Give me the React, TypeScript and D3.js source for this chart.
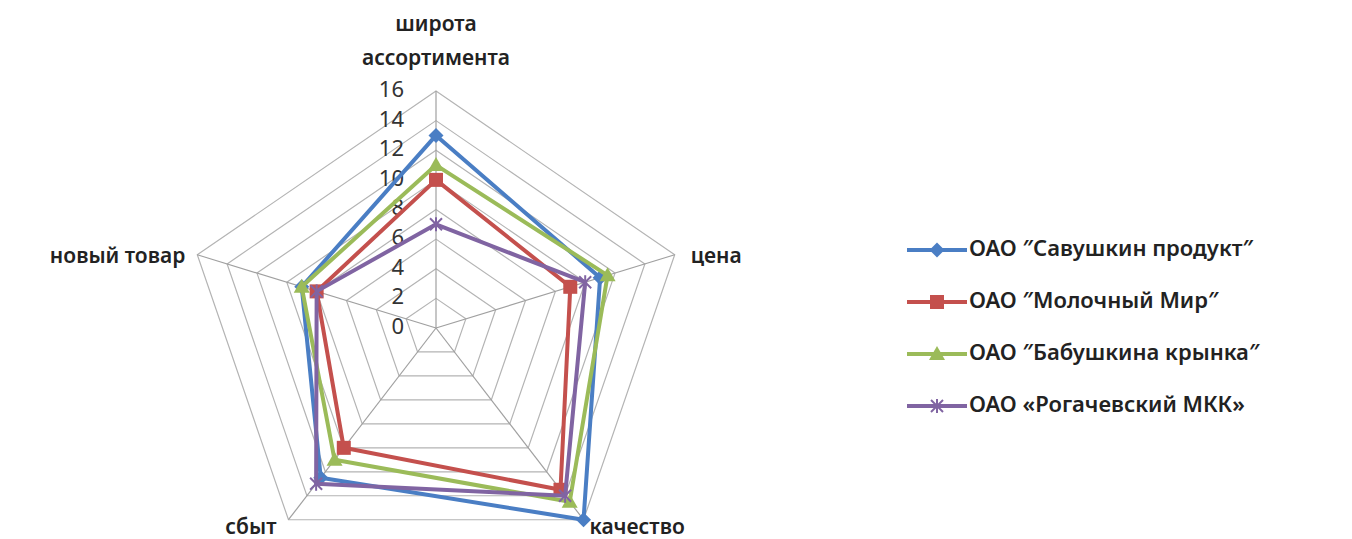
import { useMemo } from "react";
import * as d3 from "d3";

// axes, clockwise from the top
const AXES = ["широта ассортимента", "цена", "качество", "сбыт", "новый товар"];
const TICKS = [0, 2, 4, 6, 8, 10, 12, 14, 16];

const SERIES_NAMES = [
  "ОАО \u2033Савушкин продукт\u2033",
  "ОАО  \u2033Молочный Мир\u2033",
  "ОАО \u2033Бабушкина крынка\u2033",
  "ОАО «Рогачевский МКК»",
];
const SAVUSHKIN = [13, 11, 16, 12.5, 9];
const MOLOCHNY = [10, 9, 13.5, 10, 8];
const BABUSHKINA = [11, 11.5, 14.5, 11, 9];
const ROGACHEV = [7, 10, 14, 13, 8];

const COLORS = ["#4a7ec4", "#c4504d", "#9bbb59", "#8064a2"];
const SHAPES = ["diamond", "square", "triangle", "star"];

const W = 1352;
const H = 539;
const CX = 436;
const CY = 328;
const RX = 251;
const RY = 237;
const FONT = "'Noto Sans', 'Open Sans', sans-serif";

function Marker({ shape, x, y, color }: { shape: string; x: number; y: number; color: string }) {
  if (shape === "diamond") {
    const s = 7.5;
    return <path d={`M${x},${y - s}L${x + s},${y}L${x},${y + s}L${x - s},${y}Z`} fill={color} />;
  }
  if (shape === "square") {
    const s = 7;
    return <rect x={x - s} y={y - s} width={2 * s} height={2 * s} fill={color} />;
  }
  if (shape === "triangle") {
    const s = 8;
    return <path d={`M${x},${y - s}L${x + s},${y + s * 0.75}L${x - s},${y + s * 0.75}Z`} fill={color} />;
  }
  const s = 6;
  return (
    <g stroke={color} strokeWidth={2}>
      <line x1={x - s} y1={y - s} x2={x + s} y2={y + s} />
      <line x1={x - s} y1={y + s} x2={x + s} y2={y - s} />
      <line x1={x} y1={y - s - 1} x2={x} y2={y + s + 1} />
    </g>
  );
}

export default function App() {
  const r = useMemo(() => d3.scaleLinear().domain([0, 16]).range([0, 1]), []);
  const angle = d3.scaleLinear().domain([0, AXES.length]).range([0, 2 * Math.PI]);

  const pt = (i: number, v: number): [number, number] => {
    const a = angle(i);
    return [CX + RX * r(v) * Math.sin(a), CY - RY * r(v) * Math.cos(a)];
  };

  const allSeries = [SAVUSHKIN, MOLOCHNY, BABUSHKINA, ROGACHEV];
  const line = d3.line<[number, number]>().curve(d3.curveLinearClosed);

  // label offsets per axis
  const labelPos = [
    { dx: 0, dy: 0, anchor: "middle" },
    { dx: 16, dy: 8, anchor: "start" },
    { dx: 6, dy: 14, anchor: "start" },
    { dx: -12, dy: 14, anchor: "end" },
    { dx: -12, dy: 8, anchor: "end" },
  ];

  return (
    <svg
      width={W}
      height={H}
      style={{ position: "absolute", left: 0, top: 0, background: "#fff" }}
      fontFamily={FONT}
    >
      {/* grid */}
      {TICKS.slice(1).map((t) => (
        <path
          key={t}
          d={line(AXES.map((_, i) => pt(i, t))) ?? ""}
          fill="none"
          stroke="#b4b4b4"
          strokeWidth={1.2}
        />
      ))}
      {AXES.map((_, i) => {
        const [x, y] = pt(i, 16);
        return <line key={i} x1={CX} y1={CY} x2={x} y2={y} stroke="#a0a0a0" strokeWidth={1.2} />;
      })}

      {/* tick labels */}
      {TICKS.map((t) => (
        <text
          key={t}
          x={CX - 32}
          y={pt(0, t)[1]}
          textAnchor="end"
          dominantBaseline="middle"
          fontSize={22}
          fill="#333"
        >
          {t}
        </text>
      ))}

      {/* series */}
      {allSeries.map((s, k) => (
        <g key={k}>
          <path
            d={line(s.map((v, i) => pt(i, v))) ?? ""}
            fill="none"
            stroke={COLORS[k]}
            strokeWidth={4}
            strokeLinejoin="round"
          />
          {s.map((v, i) => {
            const [x, y] = pt(i, v);
            return <Marker key={i} shape={SHAPES[k]} x={x} y={y} color={COLORS[k]} />;
          })}
        </g>
      ))}

      {/* axis labels */}
      {AXES.map((name, i) => {
        const [x, y] = pt(i, 16);
        const p = labelPos[i];
        if (i === 0) {
          return (
            <text key={i} x={x} textAnchor="middle" fontSize={21} fontWeight={600} fill="#222">
              <tspan x={x} y={31}>широта</tspan>
              <tspan x={x} y={65}>ассортимента</tspan>
            </text>
          );
        }
        return (
          <text
            key={i}
            x={x + p.dx}
            y={y + p.dy}
            textAnchor={p.anchor}
            fontSize={21}
            fontWeight={600}
            fill="#222"
          >
            {name}
          </text>
        );
      })}

      {/* legend */}
      {SERIES_NAMES.map((name, k) => {
        const y = 250 + k * 52;
        return (
          <g key={k}>
            <line x1={907} x2={967} y1={y} y2={y} stroke={COLORS[k]} strokeWidth={4} />
            <Marker shape={SHAPES[k]} x={937} y={y} color={COLORS[k]} />
            <text x={969} y={y} dominantBaseline="middle" fontSize={22} fontWeight={600} fill="#222">
              {name}
            </text>
          </g>
        );
      })}
    </svg>
  );
}
